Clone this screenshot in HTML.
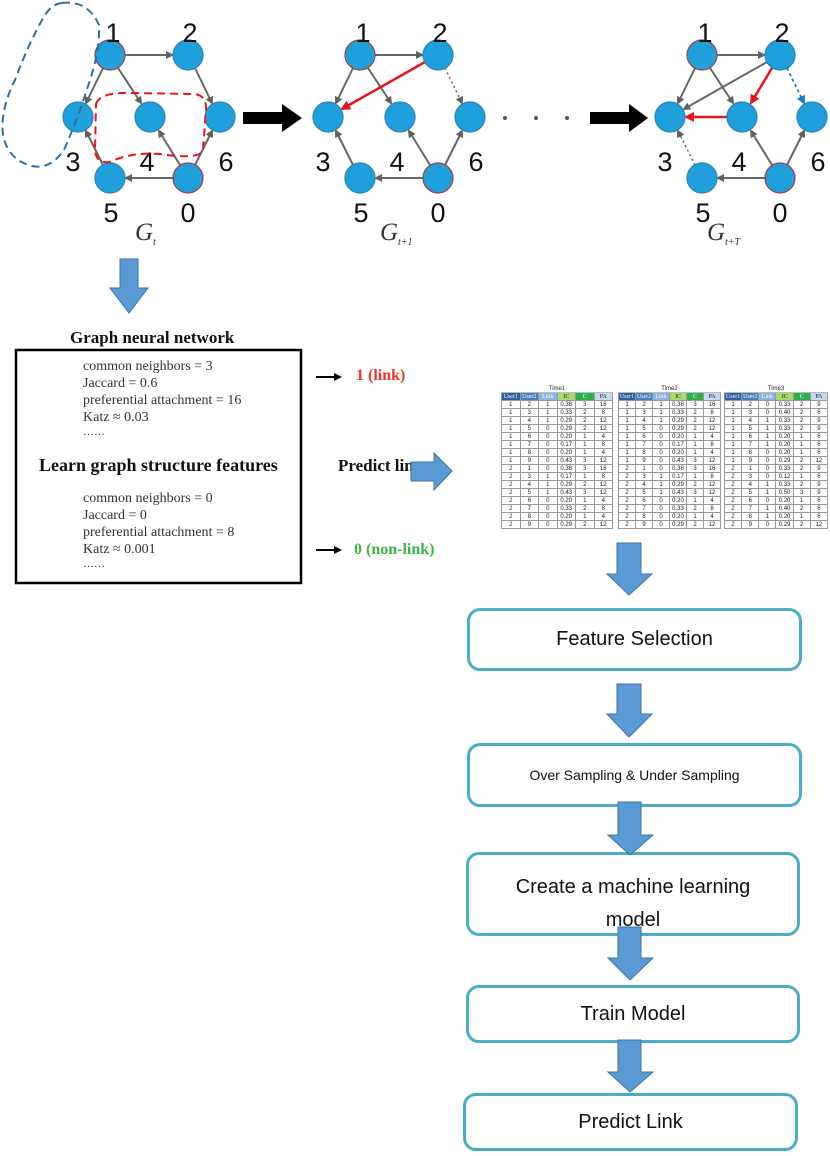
<!DOCTYPE html>
<html><head><meta charset="utf-8"><style>
body{margin:0;background:#fff;}
#c{position:relative;width:830px;height:1156px;overflow:hidden;font-family:"Liberation Sans",sans-serif;}
.tb{position:absolute;border-collapse:collapse;font-family:"Liberation Sans",sans-serif;font-size:6px;color:#222;table-layout:fixed;}
.tb td{border:1px solid #999;text-align:center;height:7px;line-height:6px;padding:0;}
.tb tr.t td{border:none;border-bottom:1px solid #bbb;height:7px;}
.h td{font-family:"Liberation Serif",serif;}
.box{position:absolute;border:3.5px solid #4bacc6;border-radius:13px;background:#fff;box-sizing:border-box;display:flex;align-items:center;justify-content:center;color:#111;font-family:"Liberation Sans",sans-serif;overflow:hidden;}
.s{position:absolute;font-family:"Liberation Serif",serif;font-size:14px;color:#333;white-space:nowrap;}
</style></head><body><div id="c">
<svg width="830" height="1156" style="position:absolute;left:0;top:0" xmlns="http://www.w3.org/2000/svg">
<defs>
<marker id="ag" markerWidth="8" markerHeight="8" refX="6" refY="4" orient="auto" markerUnits="userSpaceOnUse"><path d="M0,0 L8,4 L0,8 z" fill="#606060"/></marker>
<marker id="ar" markerWidth="10" markerHeight="10" refX="8" refY="5" orient="auto" markerUnits="userSpaceOnUse"><path d="M0,0 L10,5 L0,10 z" fill="#e8141b"/></marker>
<marker id="ab" markerWidth="9" markerHeight="9" refX="7" refY="4.5" orient="auto" markerUnits="userSpaceOnUse"><path d="M0,0 L9,4.5 L0,9 z" fill="#1e78c8"/></marker>
<marker id="ak" markerWidth="8" markerHeight="8" refX="6" refY="4" orient="auto" markerUnits="userSpaceOnUse"><path d="M0,0 L8,4 L0,8 z" fill="#000"/></marker>
<g id="base" stroke="#666" stroke-width="2" fill="none">
<line x1="125" y1="55" x2="172" y2="55" marker-end="url(#ag)"/>
<line x1="103" y1="68" x2="86" y2="103" marker-end="url(#ag)"/>
<line x1="118" y1="68" x2="141" y2="103" marker-end="url(#ag)"/>
<line x1="173" y1="178" x2="126" y2="178" marker-end="url(#ag)"/>
<line x1="180" y1="165" x2="159" y2="131" marker-end="url(#ag)"/>
<line x1="195" y1="165" x2="212" y2="131" marker-end="url(#ag)"/>
</g>
<g id="nodes" fill="#1fa0dc" stroke="#2b82b4" stroke-width="1.2">
<circle cx="110" cy="55" r="15" stroke="#a04040"/><circle cx="188" cy="55" r="15"/>
<circle cx="78" cy="117" r="15"/><circle cx="150" cy="117" r="15"/><circle cx="220" cy="117" r="15"/>
<circle cx="110" cy="178" r="15"/><circle cx="188" cy="178" r="15" stroke="#a04040"/>
</g>
<g id="labs" font-family="Liberation Sans,sans-serif" font-size="27" fill="#111" text-anchor="middle">
<text x="113" y="42">1</text><text x="190" y="42">2</text><text x="73" y="171">3</text><text x="147" y="171">4</text><text x="226" y="171">6</text><text x="111" y="222">5</text><text x="188" y="222">0</text>
</g>
</defs>
<use href="#base"/>
<line x1="195" y1="68" x2="212" y2="103" stroke="#666" stroke-width="2" marker-end="url(#ag)"/>
<line x1="103" y1="165" x2="86" y2="131" stroke="#666" stroke-width="2" marker-end="url(#ag)"/>
<use href="#nodes"/><use href="#labs"/>
<path d="M96,104 Q100,92 130,93 L195,94 Q207,96 206,110 L203,150 Q200,160 160,154 Q130,152 110,162 Q96,164 95,150 Z" fill="none" stroke="#e8141b" stroke-width="2" stroke-dasharray="8,5"/>
<path d="M62,3 Q88,0 99,25 Q100,50 90,80 Q78,118 64,150 Q50,170 32,166 Q8,160 3,135 Q0,110 15,80 Q30,40 45,15 Q52,4 62,3 Z" fill="none" stroke="#2f6fa0" stroke-width="2" stroke-dasharray="8,5"/>
<text x="135" y="240" font-family="Liberation Serif,serif" font-style="italic" font-size="25" fill="#333">G</text><text x="153" y="245" font-family="Liberation Serif,serif" font-style="italic" font-size="10" fill="#333">t</text>
<path d="M243,112 L282,112 L282,104 L302,118 L282,132 L282,124 L243,124 Z" fill="#000"/>
<g transform="translate(250,0)">
<use href="#base"/>
<line x1="195" y1="68" x2="212" y2="103" stroke="#666" stroke-width="1.5" stroke-dasharray="2,3" marker-end="url(#ag)"/>
<line x1="103" y1="165" x2="86" y2="131" stroke="#666" stroke-width="2" marker-end="url(#ag)"/>
<line x1="175" y1="62" x2="92" y2="109" stroke="#e8141b" stroke-width="2.5" marker-end="url(#ar)"/>
<use href="#nodes"/><use href="#labs"/>
<text x="130" y="240" font-family="Liberation Serif,serif" font-style="italic" font-size="25" fill="#333">G</text><text x="148" y="245" font-family="Liberation Serif,serif" font-style="italic" font-size="10" fill="#333">t+1</text>
</g>
<circle cx="505" cy="118" r="2" fill="#555"/><circle cx="536" cy="118" r="2" fill="#555"/><circle cx="567" cy="118" r="2" fill="#555"/>
<path d="M590,112 L629,112 L629,104 L648,118 L629,132 L629,124 L590,124 Z" fill="#000"/>
<g transform="translate(592,0)">
<use href="#base"/>
<line x1="175" y1="62" x2="92" y2="109" stroke="#666" stroke-width="2" marker-end="url(#ag)"/>
<line x1="195" y1="68" x2="212" y2="103" stroke="#1e78c8" stroke-width="1.8" stroke-dasharray="3,3" marker-end="url(#ab)"/>
<line x1="103" y1="165" x2="86" y2="131" stroke="#666" stroke-width="1.5" stroke-dasharray="2,3" marker-end="url(#ag)"/>
<line x1="180" y1="68" x2="159" y2="103" stroke="#e8141b" stroke-width="2.5" marker-end="url(#ar)"/>
<line x1="135" y1="117" x2="94" y2="117" stroke="#e8141b" stroke-width="2.5" marker-end="url(#ar)"/>
<use href="#nodes"/><use href="#labs"/>
<text x="115" y="240" font-family="Liberation Serif,serif" font-style="italic" font-size="25" fill="#333">G</text><text x="133" y="245" font-family="Liberation Serif,serif" font-style="italic" font-size="10" fill="#333">t+T</text>
</g>
<g fill="#5b9bd5" stroke="#41719c" stroke-width="1">
<path d="M120,259 L138,259 L138,288 L148,288 L129,313 L110,288 L120,288 Z"/>
<path d="M617,543 L641,543 L641,574 L652,574 L629,595 L607,574 L617,574 Z"/>
<path d="M617,684 L641,684 L641,714 L652,714 L629,737 L607,714 L617,714 Z"/>
</g>
<rect x="16" y="350" width="285" height="233" fill="none" stroke="#000" stroke-width="2.5"/>
<line x1="316" y1="377" x2="340" y2="377" stroke="#000" stroke-width="2" marker-end="url(#ak)"/>
<line x1="316" y1="550" x2="340" y2="550" stroke="#000" stroke-width="2" marker-end="url(#ak)"/>
</svg>
<div style="position:absolute;left:70px;top:328px;font-family:'Liberation Serif',serif;font-weight:bold;font-size:17px;color:#111;">Graph neural network</div>
<div class="s" style="left:83px;top:359px;">common neighbors = 3</div>
<div class="s" style="left:83px;top:376px;">Jaccard = 0.6</div>
<div class="s" style="left:83px;top:393px;">preferential attachment = 16</div>
<div class="s" style="left:83px;top:410px;">Katz ≈ 0.03</div>
<div class="s" style="left:83px;top:426px;font-size:11px;">……</div>
<div style="position:absolute;left:39px;top:455px;font-family:'Liberation Serif',serif;font-weight:bold;font-size:18px;color:#111;white-space:nowrap;">Learn graph structure features</div>
<div class="s" style="left:83px;top:491px;">common neighbors = 0</div>
<div class="s" style="left:83px;top:508px;">Jaccard = 0</div>
<div class="s" style="left:83px;top:525px;">preferential attachment = 8</div>
<div class="s" style="left:83px;top:542px;">Katz ≈ 0.001</div>
<div class="s" style="left:83px;top:558px;font-size:11px;">……</div>
<div style="position:absolute;left:356px;top:367px;font-family:'Liberation Serif',serif;font-weight:bold;font-size:16px;color:#e8332a;">1 (link)</div>
<div style="position:absolute;left:354px;top:541px;font-family:'Liberation Serif',serif;font-weight:bold;font-size:16px;color:#3cb44b;white-space:nowrap;">0 (non-link)</div>
<div style="position:absolute;left:338px;top:456px;width:74px;overflow:hidden;font-family:'Liberation Serif',serif;font-weight:bold;font-size:17px;color:#111;white-space:nowrap;">Predict link</div>
<svg width="50" height="40" style="position:absolute;left:405px;top:452px"><path d="M6,10 L29,10 L29,1 L47,19 L29,38 L29,29 L6,29 Z" fill="#5b9bd5" stroke="#41719c"/></svg>

<table class="tb" style="left:501px;top:385px;width:112px">
<tr class="t"><td colspan="6">Time1</td></tr>
<tr class="h"><td style="background:#2e5c9e;color:#fff">User1</td><td style="background:#4a7ebb;color:#fff">User2</td><td style="background:#8db3e2;color:#fff">Link</td><td style="background:#a8d86e">JC</td><td style="background:#2fb04a;color:#fff">C</td><td style="background:#c5d9f1">PA</td></tr>
<tr><td>1<td>2<td>1<td>0.38<td>3<td>16</tr><tr><td>1<td>3<td>1<td>0.33<td>2<td>8</tr><tr><td>1<td>4<td>1<td>0.29<td>2<td>12</tr><tr><td>1<td>5<td>0<td>0.29<td>2<td>12</tr><tr><td>1<td>6<td>0<td>0.20<td>1<td>4</tr><tr><td>1<td>7<td>0<td>0.17<td>1<td>8</tr><tr><td>1<td>8<td>0<td>0.20<td>1<td>4</tr><tr><td>1<td>9<td>0<td>0.43<td>3<td>12</tr><tr><td>2<td>1<td>0<td>0.38<td>3<td>16</tr><tr><td>2<td>3<td>1<td>0.17<td>1<td>8</tr><tr><td>2<td>4<td>1<td>0.29<td>2<td>12</tr><tr><td>2<td>5<td>1<td>0.43<td>3<td>12</tr><tr><td>2<td>6<td>0<td>0.20<td>1<td>4</tr><tr><td>2<td>7<td>0<td>0.33<td>2<td>8</tr><tr><td>2<td>8<td>0<td>0.20<td>1<td>4</tr><tr><td>2<td>9<td>0<td>0.29<td>2<td>12</tr>
</table>
<table class="tb" style="left:618px;top:385px;width:103px">
<tr class="t"><td colspan="6">Time2</td></tr>
<tr class="h"><td style="background:#2e5c9e;color:#fff">User1</td><td style="background:#4a7ebb;color:#fff">User2</td><td style="background:#8db3e2;color:#fff">Link</td><td style="background:#a8d86e">JC</td><td style="background:#2fb04a;color:#fff">C</td><td style="background:#c5d9f1">PA</td></tr>
<tr><td>1<td>2<td>1<td>0.38<td>3<td>16</tr><tr><td>1<td>3<td>1<td>0.33<td>2<td>8</tr><tr><td>1<td>4<td>1<td>0.29<td>2<td>12</tr><tr><td>1<td>5<td>0<td>0.29<td>2<td>12</tr><tr><td>1<td>6<td>0<td>0.20<td>1<td>4</tr><tr><td>1<td>7<td>0<td>0.17<td>1<td>8</tr><tr><td>1<td>8<td>0<td>0.20<td>1<td>4</tr><tr><td>1<td>9<td>0<td>0.43<td>3<td>12</tr><tr><td>2<td>1<td>0<td>0.38<td>3<td>16</tr><tr><td>2<td>3<td>1<td>0.17<td>1<td>8</tr><tr><td>2<td>4<td>1<td>0.29<td>2<td>12</tr><tr><td>2<td>5<td>1<td>0.43<td>3<td>12</tr><tr><td>2<td>6<td>0<td>0.20<td>1<td>4</tr><tr><td>2<td>7<td>0<td>0.33<td>2<td>8</tr><tr><td>2<td>8<td>0<td>0.20<td>1<td>4</tr><tr><td>2<td>9<td>0<td>0.29<td>2<td>12</tr>
</table>
<table class="tb" style="left:724px;top:385px;width:104px">
<tr class="t"><td colspan="6">Time3</td></tr>
<tr class="h"><td style="background:#2e5c9e;color:#fff">User1</td><td style="background:#4a7ebb;color:#fff">User2</td><td style="background:#8db3e2;color:#fff">Link</td><td style="background:#a8d86e">JC</td><td style="background:#2fb04a;color:#fff">C</td><td style="background:#c5d9f1">PA</td></tr>
<tr><td>1<td>2<td>0<td>0.33<td>2<td>9</tr><tr><td>1<td>3<td>0<td>0.40<td>2<td>6</tr><tr><td>1<td>4<td>1<td>0.33<td>2<td>9</tr><tr><td>1<td>5<td>1<td>0.33<td>2<td>9</tr><tr><td>1<td>6<td>1<td>0.20<td>1<td>6</tr><tr><td>1<td>7<td>1<td>0.20<td>1<td>6</tr><tr><td>1<td>8<td>0<td>0.20<td>1<td>6</tr><tr><td>1<td>9<td>0<td>0.29<td>2<td>12</tr><tr><td>2<td>1<td>0<td>0.33<td>2<td>9</tr><tr><td>2<td>3<td>0<td>0.12<td>1<td>6</tr><tr><td>2<td>4<td>1<td>0.33<td>2<td>9</tr><tr><td>2<td>5<td>1<td>0.50<td>3<td>9</tr><tr><td>2<td>6<td>0<td>0.20<td>1<td>6</tr><tr><td>2<td>7<td>1<td>0.40<td>2<td>6</tr><tr><td>2<td>8<td>1<td>0.20<td>1<td>6</tr><tr><td>2<td>9<td>0<td>0.29<td>2<td>12</tr>
</table>

<div class="box" style="left:467px;top:608px;width:335px;height:63px;font-size:20px;">Feature Selection</div>
<div class="box" style="left:467px;top:743px;width:335px;height:64px;font-size:14px;">Over Sampling &amp; Under Sampling</div>
<div class="box" style="left:466px;top:852px;width:334px;height:84px;font-size:20px;align-items:flex-start;"><div style="text-align:center;line-height:33px;padding-top:16px;">Create a machine learning<br>model</div></div>
<div class="box" style="left:466px;top:985px;width:334px;height:58px;font-size:20px;">Train Model</div>
<div class="box" style="left:463px;top:1093px;width:335px;height:58px;font-size:20px;">Predict Link</div>
<svg width="60" height="60" style="position:absolute;left:600px;top:920px"><path d="M18,7 L41,7 L41,38 L53,38 L30,60 L8,38 L18,38 Z" fill="#5b9bd5" stroke="#41719c"/></svg>
<svg width="60" height="60" style="position:absolute;left:600px;top:795px"><path d="M18,7 L41,7 L41,40 L53,40 L30,60 L8,40 L18,40 Z" fill="#5b9bd5" stroke="#41719c"/></svg>
<svg width="60" height="60" style="position:absolute;left:600px;top:1033px"><path d="M18,7 L41,7 L41,39 L53,39 L30,59 L8,39 L18,39 Z" fill="#5b9bd5" stroke="#41719c"/></svg>
</div></body></html>
